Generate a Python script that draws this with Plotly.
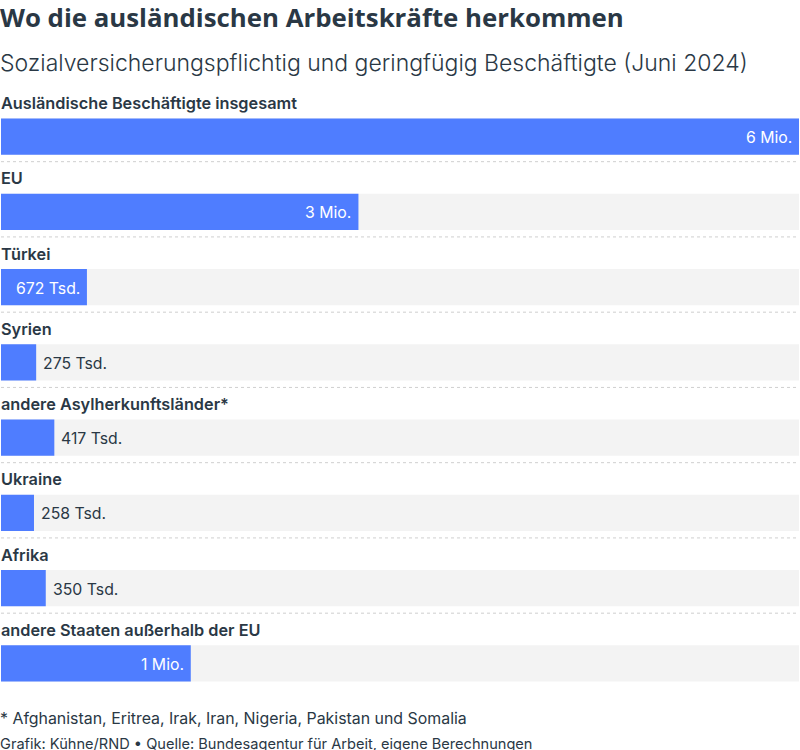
import plotly.graph_objects as go

TITLE = "Wo die ausländischen Arbeitskräfte herkommen"
SUBTITLE = "Sozialversicherungspflichtig und geringfügig Beschäftigte (Juni 2024)"
NOTE = "* Afghanistan, Eritrea, Irak, Iran, Nigeria, Pakistan und Somalia"
SOURCE = "Grafik: Kühne/RND • Quelle: Bundesagentur für Arbeit, eigene Berechnungen"

categories = ["Ausländische Beschäftigte insgesamt", "EU", "Türkei", "Syrien",
              "andere Asylherkunftsländer*", "Ukraine", "Afrika",
              "andere Staaten außerhalb der EU"]
values = [6240, 2795, 672, 275, 417, 258, 350, 1484]
labels = ["6 Mio.", "3 Mio.", "672 Tsd.", "275 Tsd.", "417 Tsd.", "258 Tsd.", "350 Tsd.", "1 Mio."]
inside = [True, True, True, False, False, False, False, True]
total = values[0]

W, H = 800, 750
L, R, T, B = 1, 1, 99, 49
DARK = "#2a3845"
BLUE = "#4f7dff"
BODY = "Inter, 'Noto Sans', sans-serif"

fig = go.Figure()
fig.add_bar(y=categories, x=[total] * len(categories), orientation="h", width=0.48,
            marker=dict(color="#f3f3f3", line_width=0), hoverinfo="skip", showlegend=False)
fig.add_bar(y=categories, x=values, orientation="h", width=0.48,
            marker=dict(color=BLUE, line_width=0), showlegend=False)

ann = []
for cat, val, lab, ins in zip(categories, values, labels, inside):
    ann.append(dict(x=0, y=cat, xref="x", yref="y", text=cat, showarrow=False,
                    xanchor="left", yanchor="middle", yshift=33.5, xshift=-2,
                    font=dict(family=BODY, size=16.3, weight=600, color=DARK)))
    ann.append(dict(x=val, y=cat, xref="x", yref="y", text=lab, showarrow=False,
                    xanchor="right" if ins else "left", yanchor="middle",
                    xshift=-5 if ins else 5, yshift=-1,
                    font=dict(family=BODY, size=15.8, color="white" if ins else DARK)))


def top(px):
    return 1 - (px - T) / (H - T - B)


for txt, y, fam, size, weight, col in [
    (TITLE, 16.8, "'Open Sans', sans-serif", 25.8, 700, DARK),
    (SUBTITLE, 62.5, "Inter, sans-serif", 23, 300, DARK),
    (NOTE, 718.5, BODY, 15.9, 400, DARK),
    (SOURCE, 743.5, BODY, 14.6, 400, DARK),
]:
    ann.append(dict(x=0, y=top(y), xref="paper", yref="paper", text=txt, showarrow=False,
                    xanchor="left", yanchor="middle", xshift=-3,
                    font=dict(family=fam, size=size, weight=weight, color=col)))

shapes = [dict(type="line", xref="paper", x0=0, x1=1, yref="y", y0=i + 0.333, y1=i + 0.333,
               line=dict(color="#cfcfcf", width=1, dash="dot"), layer="below")
          for i in range(len(categories) - 1)]

fig.update_layout(
    width=W, height=H, margin=dict(l=L, r=R, t=T, b=B, pad=0, autoexpand=False),
    paper_bgcolor="white", plot_bgcolor="white", barmode="overlay",
    annotations=ann, shapes=shapes,
    xaxis=dict(range=[0, total], visible=False, fixedrange=True),
    yaxis=dict(type="category", categoryorder="array", categoryarray=categories,
               range=[7.5, -0.5], visible=False, fixedrange=True),
)
fig.write_html("out.html", config={"displayModeBar": False},
               post_script="document.body.style.margin='0';document.body.style.overflow='hidden';")
